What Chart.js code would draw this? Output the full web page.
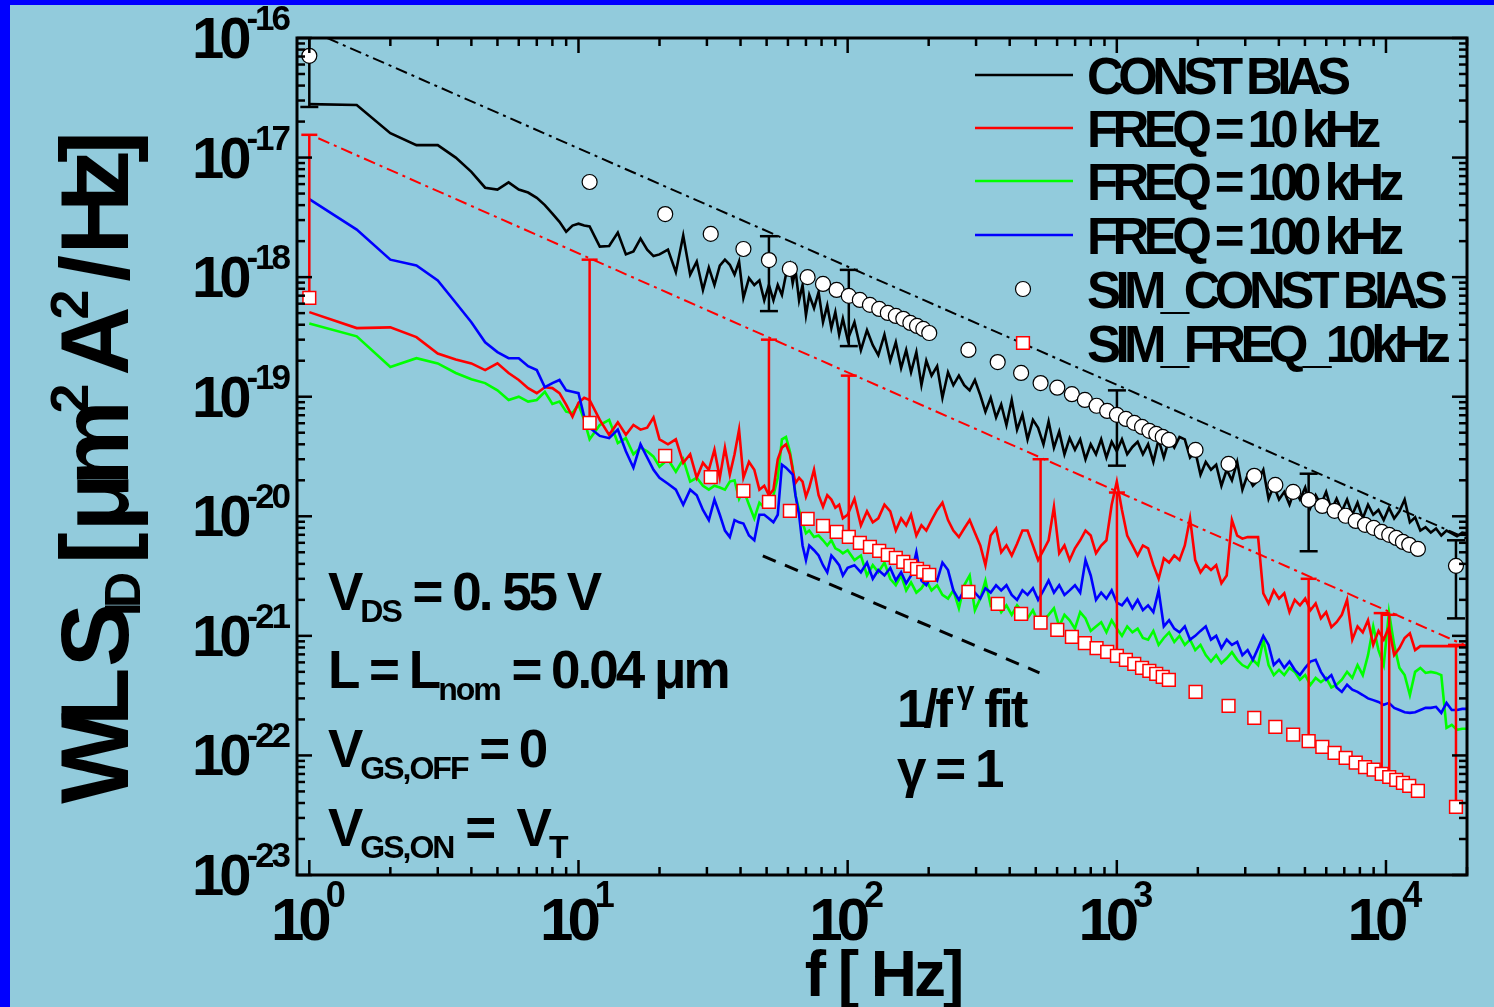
<!DOCTYPE html>
<html>
<head>
<meta charset="utf-8">
<script src="https://cdn.jsdelivr.net/npm/chart.js@4.4.1/dist/chart.umd.min.js"></script>
<style>
  html, body { margin: 0; padding: 0; background: #92cbdc; }
  #wrap { position: relative; width: 1494px; height: 1007px; overflow: hidden; background: #92cbdc; }
  .edge { position: absolute; background: #0000ff; }
</style>
</head>
<body>
<div id="wrap">
  <canvas id="chartNoise"></canvas>
  <div class="edge" style="left:0;top:0;width:10px;height:1007px"></div>
  <div class="edge" style="left:0;top:0;width:1494px;height:5px"></div>
</div>
<script>
// tần số đo (Hz) - dùng chung cho 4 đường đo
const freq = [
  1, 1.5, 2, 2.5, 3, 3.5, 4, 4.5, 5, 5.5, 6, 6.5, 7, 7.5, 8, 8.5, 9, 9.5, 10, 10.5, 11,
  12, 13, 14, 15, 16, 17, 18, 19, 20,
  21.5, 23, 24.5, 26, 27.5, 29, 30.5, 32, 33.5, 35, 36.5, 38, 39.5,
  41, 43, 45, 47, 49, 51, 53, 55, 57, 59,
  61, 62.5, 64, 66, 68, 70,
  72, 75, 78, 81, 84, 87, 90, 93, 96, 100,
  106, 112, 118, 124, 130, 137, 144, 151, 158, 165, 172, 180, 188, 196,
  205, 215, 225, 236, 247, 259, 271, 284, 297, 311, 325, 340, 356, 372, 389,
  407, 426, 446, 466, 488, 510, 534, 558, 584, 611, 639, 668, 699, 731, 765, 800, 837, 875, 915, 957, 1000,
  1045, 1093, 1143, 1195, 1250, 1307, 1367, 1430, 1495, 1564,
  1635, 1710, 1789, 1871, 1956, 2046, 2140, 2238, 2340, 2447,
  2560, 2677, 2800, 2928, 3062, 3202, 3349, 3502, 3663, 3830,
  4006, 4189, 4381, 4582, 4791, 5011, 5240, 5480, 5731, 5994,
  6268, 6555, 6855, 7169, 7498, 7841, 8200, 8576, 8968, 9379,
  9809, 10258, 10727, 11219, 11732, 12270, 12831, 13419, 14033, 14676,
  15348, 16051, 16786, 17554, 18358, 19199, 20000
];

// CONST BIAS (đen)
const constBias = [
  2.8e-17, 2.75e-17, 1.6e-17, 1.27e-17, 1.27e-17, 1.0e-17, 7.6e-18, 5.6e-18, 5.4e-18, 6.2e-18, 5.4e-18, 5.1e-18, 4.6e-18, 4.0e-18, 3.4e-18, 2.9e-18, 2.4e-18, 2.7e-18, 2.8e-18, 2.7e-18, 2.65e-18,
  1.8e-18, 1.82e-18, 2.36e-18, 1.55e-18, 1.64e-18, 2.1e-18, 1.7e-18, 1.5e-18, 1.55e-18,
  1.7e-18, 1.1e-18, 2.23e-18, 1.05e-18, 1.35e-18, 7.8e-19, 1.2e-18, 8.6e-19, 1.25e-18, 1.4e-18, 1.27e-18, 1.05e-18, 1.35e-18,
  6.7e-19, 9.8e-19, 8.6e-19, 9.4e-19, 6.4e-19, 8.6e-19, 6.4e-19, 8.6e-19, 7.1e-19, 1.05e-18,
  1.27e-18, 8.9e-19, 1.15e-18, 6.4e-19, 8.6e-19, 4.8e-19,
  7.1e-19, 5.5e-19, 7.5e-19, 4.2e-19, 5.8e-19, 3.75e-19, 5.1e-19, 3.3e-19, 4.5e-19, 3.0e-19,
  4.2e-19, 2.45e-19, 3.6e-19, 2.7e-19, 2.23e-19, 3.3e-19, 2.0e-19, 2.85e-19, 1.74e-19, 2.45e-19, 1.6e-19, 2.36e-19, 1.25e-19, 2.0e-19,
  1.5e-19, 1.8e-19, 9.8e-20, 1.6e-19, 1.25e-19, 1.5e-19, 1.25e-19, 1.13e-19, 1.38e-19, 1.03e-19, 7.5e-20, 9.8e-20, 6.7e-20, 8.6e-20, 5.8e-20,
  9.4e-20, 5.3e-20, 7.1e-20, 4.4e-20, 6.4e-20, 5.5e-20, 4.0e-20, 6.2e-20, 3.75e-20, 5.1e-20, 3.3e-20, 4.5e-20, 3.6e-20, 4.4e-20, 3.0e-20, 4.0e-20, 3.3e-20, 4.4e-20, 3.1e-20, 4.2e-20, 3.5e-20,
  4.4e-20, 3.3e-20, 3.8e-20, 4.2e-20, 3.3e-20, 4.0e-20, 2.85e-20, 4.4e-20, 3.1e-20, 4.4e-20,
  3.75e-20, 4.6e-20, 4.4e-20, 3.1e-20, 3.5e-20, 2.23e-20, 2.85e-20, 2.45e-20, 2.7e-20, 1.8e-20,
  2.45e-20, 2.0e-20, 2.85e-20, 1.67e-20, 2.23e-20, 1.8e-20, 2.0e-20, 2.45e-20, 1.4e-20, 1.8e-20,
  1.38e-20, 1.6e-20, 1.25e-20, 1.67e-20, 1.38e-20, 1.74e-20, 1.18e-20, 1.5e-20, 1.25e-20, 1.6e-20,
  1.13e-20, 1.4e-20, 1.1e-20, 1.38e-20, 1.03e-20, 1.3e-20, 9.6e-21, 1.25e-20, 1.03e-20, 1.13e-20,
  9.3e-21, 1.18e-20, 9.6e-21, 1.1e-20, 1.38e-20, 8.9e-21, 9.8e-21, 7.6e-21, 8.1e-21, 7.3e-21,
  7.9e-21, 6.9e-21, 7.6e-21, 7.2e-21, 6.8e-21, 7.3e-21, 7.2e-21
];

// FREQ = 10 kHz (đỏ)
const freq10k = [
  5.1e-19, 3.75e-19, 3.8e-19, 3.15e-19, 2.3e-19, 2.05e-19, 1.9e-19, 1.67e-19, 1.9e-19, 1.58e-19, 1.38e-19, 1.18e-19, 1.07e-19, 1.2e-19, 1.18e-19, 1.07e-19, 8.6e-20, 6.8e-20, 8.9e-20, 9.8e-20, 9.4e-20,
  6.4e-20, 4.8e-20, 6.1e-20, 4.8e-20, 5.8e-20, 5.3e-20, 5.5e-20, 6.7e-20, 4.4e-20,
  4.0e-20, 4.4e-20, 2.8e-20, 3.3e-20, 2.1e-20, 2.8e-20, 2.45e-20, 3.6e-20, 2.1e-20, 3.75e-20, 2.23e-20, 3.3e-20, 5.3e-20,
  2.1e-20, 2.85e-20, 2.45e-20, 1.67e-20, 1.8e-20, 1.5e-20, 1.67e-20, 3.0e-20, 3.75e-20, 4.0e-20,
  3.3e-20, 2.45e-20, 1.9e-20, 2.1e-20, 1.95e-20, 1.46e-20,
  1.74e-20, 2.45e-20, 1.5e-20, 1.2e-20, 1.5e-20, 1.38e-20, 1.18e-20, 1.25e-20, 9.6e-21, 1.03e-20,
  1.4e-20, 8.4e-21, 1.1e-20, 8.9e-21, 9.6e-21, 1.25e-20, 1.1e-20, 7.6e-21, 9.6e-21, 8.4e-21, 1.03e-20, 6.9e-21, 8.4e-21, 7.6e-21,
  9.3e-21, 1.13e-20, 1.3e-20, 9.3e-21, 7.6e-21, 6.7e-21, 7.9e-21, 9.3e-21, 7.3e-21, 5.7e-21, 3.9e-21, 6.9e-21, 7.9e-21, 5.0e-21, 5.7e-21,
  4.7e-21, 5.9e-21, 7.6e-21, 7.6e-21, 5.7e-21, 4.3e-21, 5.2e-21, 6.3e-21, 1.2e-20, 4.9e-21, 5.7e-21, 4.3e-21, 5.4e-21, 6.3e-21, 7.6e-21, 6.9e-21, 4.9e-21, 5.7e-21, 6.3e-21, 1.25e-20, 1.95e-20,
  1.13e-20, 6.9e-21, 5.7e-21, 4.7e-21, 5.7e-21, 5.4e-21, 3.9e-21, 3.0e-21, 4.45e-21, 4.1e-21,
  4.7e-21, 4.3e-21, 5.7e-21, 9.6e-21, 4.3e-21, 3.4e-21, 3.9e-21, 3.55e-21, 3.9e-21, 2.75e-21,
  3.2e-21, 9.3e-21, 6.9e-21, 6.5e-21, 6.7e-21, 6.7e-21, 6.7e-21, 2.27e-21, 1.87e-21, 2.4e-21,
  2.05e-21, 2.27e-21, 1.58e-21, 2.0e-21, 1.8e-21, 2.05e-21, 1.64e-21, 1.87e-21, 1.4e-21, 1.58e-21,
  1.18e-21, 1.3e-21, 1.5e-21, 2.0e-21, 9.3e-22, 1.2e-21, 1.07e-21, 1.35e-21, 8.4e-22, 1.1e-21,
  9.3e-22, 1.18e-21, 6.9e-22, 7.9e-22, 9.6e-22, 1.05e-21, 7.6e-22, 8.2e-22, 8.2e-22, 8.2e-22,
  8.2e-22, 8.2e-22, 8.2e-22, 8.2e-22, 8.2e-22, 8.2e-22, 8.2e-22
];

// FREQ = 100 kHz (xanh lá)
const freq100kGreen = [
  4.1e-19, 3.2e-19, 1.77e-19, 2.1e-19, 1.9e-19, 1.58e-19, 1.4e-19, 1.3e-19, 1.13e-19, 9.4e-20, 1.0e-19, 9.1e-20, 9.4e-20, 1.1e-19, 8.7e-20, 9.1e-20, 7.5e-20, 7.3e-20, 8.6e-20, 6.4e-20, 4.4e-20,
  5.8e-20, 6.4e-20, 4.1e-20, 4.5e-20, 3.3e-20, 3.75e-20, 3.5e-20, 3.15e-20, 2.6e-20,
  3.0e-20, 2.36e-20, 3.0e-20, 1.95e-20, 2.1e-20, 1.8e-20, 1.67e-20, 1.8e-20, 1.74e-20, 1.67e-20, 1.95e-20, 2.0e-20, 1.4e-20,
  1.67e-20, 1.25e-20, 9.6e-21, 1.3e-20, 1.18e-20, 1.25e-20, 1.5e-20, 2.1e-20, 4.4e-20, 4.6e-20,
  3.5e-20, 2.55e-20, 1.5e-20, 1.13e-20, 8.9e-21, 7.2e-21,
  7.6e-21, 6.7e-21, 6.9e-21, 6.3e-21, 5.7e-21, 6.3e-21, 5.4e-21, 5.2e-21, 4.9e-21, 5.2e-21,
  4.3e-21, 4.7e-21, 3.2e-21, 3.9e-21, 3.4e-21, 4.1e-21, 3.0e-21, 2.65e-21, 3.2e-21, 2.4e-21, 2.8e-21, 2.3e-21, 2.5e-21, 2.9e-21,
  2.4e-21, 2.65e-21, 2.2e-21, 2.05e-21, 2.4e-21, 1.7e-21, 2.65e-21, 3.2e-21, 1.64e-21, 2.05e-21, 2.9e-21, 1.8e-21, 2.0e-21, 1.58e-21, 1.8e-21,
  1.5e-21, 1.8e-21, 1.58e-21, 1.4e-21, 1.64e-21, 1.3e-21, 1.35e-21, 1.5e-21, 1.7e-21, 1.2e-21, 1.5e-21, 1.35e-21, 1.15e-21, 1.58e-21, 1.4e-21, 1.1e-21, 1.2e-21, 1.3e-21, 1.07e-21, 1.35e-21, 1.15e-21,
  1.0e-21, 1.2e-21, 1.07e-21, 1.15e-21, 9.6e-22, 9.3e-22, 1.1e-21, 8.4e-22, 9.6e-22, 1.07e-21,
  8.9e-22, 1.0e-21, 8.4e-22, 9.3e-22, 7.6e-22, 8.4e-22, 6.9e-22, 6.1e-22, 6.9e-22, 5.9e-22,
  6.5e-22, 7.3e-22, 6.3e-22, 5.7e-22, 5.4e-22, 6.3e-22, 5.7e-22, 9.3e-22, 5.7e-22, 4.7e-22,
  5.2e-22, 4.7e-22, 5.4e-22, 5.0e-22, 4.3e-22, 4.7e-22, 3.9e-22, 4.45e-22, 4.1e-22, 4.45e-22,
  3.7e-22, 3.9e-22, 4.3e-22, 5.0e-22, 4.45e-22, 5.7e-22, 4.7e-22, 6.9e-22, 1.2e-21, 7.6e-22,
  5.7e-22, 1.58e-21, 8.4e-22, 5.4e-22, 4.7e-22, 3.2e-22, 5.0e-22, 5.4e-22, 4.9e-22, 5.0e-22,
  4.9e-22, 4.7e-22, 1.7e-22, 1.8e-22, 1.64e-22, 1.67e-22, 1.67e-22
];

// FREQ = 100 kHz (xanh dương)
const freq100kBlue = [
  4.5e-18, 2.5e-18, 1.4e-18, 1.25e-18, 9.4e-19, 6.1e-19, 4.2e-19, 2.85e-19, 2.36e-19, 2.1e-19, 2.1e-19, 1.8e-19, 1.67e-19, 1.2e-19, 1.3e-19, 1.38e-19, 1.13e-19, 1.1e-19, 1.07e-19, 6.8e-20, 5.5e-20,
  4.7e-20, 4.5e-20, 5.3e-20, 3.5e-20, 2.55e-20, 4.0e-20, 3.1e-20, 2.45e-20, 2.1e-20,
  1.87e-20, 1.67e-20, 1.25e-20, 1.67e-20, 1.5e-20, 1.13e-20, 9.3e-21, 1.38e-20, 1.03e-20, 7.6e-21, 6.7e-21, 9.3e-21, 8.9e-21,
  8.7e-21, 6.9e-21, 6.3e-21, 1.03e-20, 1.03e-20, 9.6e-21, 8.9e-21, 1.03e-20, 2.7e-20, 2.55e-20,
  2.36e-20, 2.23e-20, 1.5e-20, 1.03e-20, 5.7e-21, 4.3e-21,
  5.7e-21, 5.2e-21, 4.7e-21, 3.9e-21, 3.4e-21, 4.7e-21, 4.3e-21, 3.9e-21, 3.2e-21, 3.7e-21,
  3.9e-21, 3.4e-21, 4.1e-21, 3.0e-21, 3.55e-21, 3.2e-21, 3.7e-21, 2.9e-21, 3.4e-21, 2.75e-21, 3.2e-21, 5.0e-21, 2.9e-21, 2.65e-21,
  3.2e-21, 2.9e-21, 4.1e-21, 3.55e-21, 2.4e-21, 2.0e-21, 2.4e-21, 2.15e-21, 2.3e-21, 2.05e-21, 2.5e-21, 2.3e-21, 2.65e-21, 2.4e-21, 2.65e-21,
  2.2e-21, 2.0e-21, 2.4e-21, 2.2e-21, 2.5e-21, 2.0e-21, 2.4e-21, 2.9e-21, 2.3e-21, 2.65e-21, 2.2e-21, 2.4e-21, 2.65e-21, 2.3e-21, 4.3e-21, 3.2e-21, 2.0e-21, 2.3e-21, 2.05e-21, 2.4e-21, 1.9e-21,
  1.8e-21, 2.05e-21, 1.7e-21, 2.0e-21, 1.64e-21, 1.8e-21, 1.58e-21, 2.4e-21, 1.2e-21, 1.35e-21,
  1.15e-21, 1.07e-21, 1.2e-21, 9.3e-22, 1.0e-21, 1.1e-21, 1.2e-21, 9.3e-22, 1.0e-21, 7.9e-22,
  9.3e-22, 8.4e-22, 8.9e-22, 6.9e-22, 7.6e-22, 6.3e-22, 7.9e-22, 1.0e-21, 8.4e-22, 5.7e-22,
  6.3e-22, 5.4e-22, 6.1e-22, 5.2e-22, 4.7e-22, 5.4e-22, 6.1e-22, 6.3e-22, 5.0e-22, 4.3e-22,
  4.7e-22, 3.7e-22, 3.4e-22, 3.9e-22, 3.55e-22, 3.4e-22, 3.2e-22, 3.0e-22, 2.9e-22, 2.8e-22,
  2.65e-22, 2.75e-22, 2.5e-22, 2.4e-22, 2.3e-22, 2.27e-22, 2.3e-22, 2.4e-22, 2.5e-22, 2.5e-22,
  2.55e-22, 2.27e-22, 2.75e-22, 2.4e-22, 2.4e-22, 2.45e-22, 2.45e-22
];

// mô phỏng (điểm tròn / vuông)
const simFreq = [
  1, 11, 21, 31, 41, 51, 61, 71, 81, 91, 101, 111, 121, 131, 141, 151, 161, 171, 181, 191, 201,
  281, 361, 441, 521, 601, 681, 761, 841, 921, 1001, 1081, 1161, 1241, 1321, 1401, 1481, 1561,
  1961, 2601, 3241, 3881, 4521, 5161, 5801, 6441, 7081, 7721, 8361, 9001, 9641, 10281, 10921, 11561, 12201, 13140,
  18200
];
const simConstBias = [
  7.1e-17, 6.25e-18, 3.37e-18, 2.3e-18, 1.72e-18, 1.39e-18, 1.17e-18, 1.0e-18, 8.78e-19, 7.82e-19, 6.97e-19, 6.45e-19, 5.86e-19, 5.42e-19, 5.02e-19, 4.74e-19, 4.48e-19, 4.14e-19, 3.91e-19, 3.69e-19, 3.41e-19,
  2.46e-19, 1.95e-19, 1.58e-19, 1.3e-19, 1.19e-19, 1.05e-19, 9.4e-20, 8.4e-20, 7.6e-20, 7.05e-20, 6.52e-20, 6.04e-20, 5.59e-20, 5.18e-20, 4.89e-20, 4.61e-20, 4.35e-20,
  3.59e-20, 2.74e-20, 2.18e-20, 1.83e-20, 1.6e-20, 1.37e-20, 1.22e-20, 1.11e-20, 1.01e-20, 9.15e-21, 8.48e-21, 8.0e-21, 7.4e-21, 6.99e-21, 6.59e-21, 6.1e-21, 5.77e-21, 5.33e-21,
  3.85e-21
];
const simFreq10k = [
  6.7e-19, 6.04e-20, 3.2e-20, 2.13e-20, 1.63e-20, 1.32e-20, 1.11e-20, 9.5e-21, 8.3e-21, 7.4e-21, 6.73e-21, 6.0e-21, 5.55e-21, 5.14e-21, 4.75e-21, 4.49e-21, 4.16e-21, 3.85e-21, 3.63e-21, 3.43e-21, 3.24e-21,
  2.33e-21, 1.85e-21, 1.53e-21, 1.29e-21, 1.12e-21, 9.8e-22, 8.7e-22, 7.9e-22, 7.35e-22, 6.8e-22, 6.3e-22, 5.83e-22, 5.4e-22, 5.1e-22, 4.8e-22, 4.54e-22, 4.29e-22,
  3.4e-22, 2.6e-22, 2.06e-22, 1.73e-22, 1.49e-22, 1.32e-22, 1.18e-22, 1.05e-22, 9.55e-23, 8.7e-23, 8.0e-23, 7.6e-23, 7.0e-23, 6.6e-23, 6.25e-23, 5.9e-23, 5.57e-23, 5.06e-23,
  3.72e-23
];

// thanh sai số
const constErrFreq = [1, 51, 101, 1001, 5161, 18200];
const constErrLow = [2.65e-17, 5.2e-19, 2.65e-19, 2.65e-20, 5.1e-21, 1.4e-21];
const constErrHigh = [1.17e-16, 2.2e-18, 1.15e-18, 1.13e-19, 2.27e-20, 6.3e-21];
const simErrFreq = [1, 11, 51, 101, 521, 1001, 5161, 9641, 10281, 18200];
const simErrLow = [6.7e-19, 6.04e-20, 1.32e-20, 6.73e-21, 1.29e-21, 6.8e-22, 1.32e-22, 7.0e-23, 6.6e-23, 3.72e-23];
const simErrHigh = [1.55e-17, 1.4e-18, 3.0e-19, 1.5e-19, 3.0e-20, 1.58e-20, 3.0e-21, 1.55e-21, 1.5e-21, 8.4e-22];

// đường fit
const constFitFreq = [1.166, 20000];
const constFitVal = [1.0e-16, 6.5e-21];
const simFitFreq = [1.08, 20000];
const simFitVal = [1.45e-17, 8.2e-22];
const gammaFitFreq = [48.4, 516];
const gammaFitVal = [4.67e-21, 4.91e-22];

// trục
const xDecades = [1, 10, 100, 1000, 10000];
const xTickExp = ['0', '1', '2', '3', '4'];
const yDecades = [1e-23, 1e-22, 1e-21, 1e-20, 1e-19, 1e-18, 1e-17, 1e-16];
const yTickExp = ['-23', '-22', '-21', '-20', '-19', '-18', '-17', '-16'];
const legendNames = ['CONST BIAS', 'FREQ = 10 kHz', 'FREQ = 100 kHz', 'FREQ = 100 kHz', 'SIM_CONST BIAS', 'SIM_FREQ_10kHz'];

const pts = (xs, ys) => xs.map((x, i) => ({ x: x, y: ys[i] }));
function errPts(fs, lo, hi) {
    const out = [];
    fs.forEach((f, i) => { out.push({ x: f, y: lo[i] }, { x: f, y: hi[i] }, { x: f, y: null }); });
    return out;
}

const FONT = '"Liberation Sans", Arial, Helvetica, sans-serif';
function setFont(ctx, size, sp) {
    ctx.font = 'bold ' + size + 'px ' + FONT;
    if ('letterSpacing' in ctx) ctx.letterSpacing = (sp || 0) + 'px';
}
// parts: [text, size, dy, spacing]
function drawRich(ctx, parts, x, y, align) {
    let w = 0;
    parts.forEach(p => { setFont(ctx, p[1], p[3]); w += ctx.measureText(p[0]).width; });
    let cx = align === 'right' ? x - w : (align === 'center' ? x - w / 2 : x);
    parts.forEach(p => {
        setFont(ctx, p[1], p[3]);
        ctx.fillText(p[0], cx, y + (p[2] || 0));
        cx += ctx.measureText(p[0]).width;
    });
    setFont(ctx, 10, 0);
}

// khung + vạch chia + nhãn
const framePlugin = {
    id: 'frame',
    afterDatasetsDraw(chart) {
        const { ctx, chartArea: a, scales: { x, y } } = chart;
        ctx.save();
        ctx.strokeStyle = '#000';
        const seg = (x1, y1, x2, y2) => { ctx.beginPath(); ctx.moveTo(x1, y1); ctx.lineTo(x2, y2); ctx.stroke(); };
        ctx.lineWidth = 2.5;
        xDecades.forEach(d => {
            const p = x.getPixelForValue(d);
            seg(p, a.bottom, p, a.bottom - 15); seg(p, a.top, p, a.top + 15);
            for (let m = 2; m <= 9; m++) {
                const v = d * m;
                if (v > x.max) continue;
                const q = x.getPixelForValue(v);
                seg(q, a.bottom, q, a.bottom - 8); seg(q, a.top, q, a.top + 8);
            }
        });
        yDecades.forEach((d, i) => {
            const p = y.getPixelForValue(d);
            seg(a.left, p, a.left + 15, p); seg(a.right, p, a.right - 15, p);
            if (i === yDecades.length - 1) return;
            for (let m = 2; m <= 9; m++) {
                const q = y.getPixelForValue(d * m);
                seg(a.left, q, a.left + 8, q); seg(a.right, q, a.right - 8, q);
            }
        });
        ctx.lineWidth = 3;
        ctx.strokeRect(a.left, a.top, a.right - a.left, a.bottom - a.top);

        ctx.fillStyle = '#000';
        ctx.textBaseline = 'alphabetic';
        yDecades.forEach((d, i) => {
            const p = y.getPixelForValue(d);
            drawRich(ctx, [['10', 58, 20, -5], [yTickExp[i], 35, -8, -3]], 288, p, 'right');
        });
        xDecades.forEach((d, i) => {
            const p = x.getPixelForValue(d);
            drawRich(ctx, [['10', 60, 0, -6], [xTickExp[i], 36, -33, -2]], p - 2, 940, 'center');
        });
        ctx.restore();
    }
};

// chú giải + chữ
const textPlugin = {
    id: 'texts',
    afterDraw(chart) {
        const ctx = chart.ctx;
        ctx.save();
        ctx.fillStyle = '#000';
        // tiêu đề trục
        drawRich(ctx, [['f [ Hz]', 64, 0, -3]], 883, 996, 'center');
        ctx.save();
        ctx.translate(128, 474);
        ctx.rotate(-Math.PI / 2);
        drawRich(ctx, [['WL S', 96, 0, -13], ['ID', 50, 12, -6], [' [ \u03bcm', 96, 0, -13], ['2', 54, -40, -6],
            [' A', 96, 0, -13], ['2', 54, -40, -6], [' / Hz]', 96, 0, -13]], 0, 0, 'center');
        ctx.restore();

        // chú giải
        const rows = [75, 128, 181, 235, 289, 343];
        const ds = chart.data.datasets;
        rows.forEach((ry, i) => {
            if (i < 4) {
                ctx.strokeStyle = ds[i].borderColor; ctx.lineWidth = 2.5;
                ctx.beginPath(); ctx.moveTo(975, ry); ctx.lineTo(1073, ry); ctx.stroke();
            } else {
                const d = ds[i === 4 ? 9 : 10];
                ctx.fillStyle = d.pointBackgroundColor;
                ctx.strokeStyle = d.pointBorderColor;
                ctx.lineWidth = d.pointBorderWidth;
                ctx.beginPath();
                if (d.pointStyle === 'circle') ctx.arc(1023, ry, d.pointRadius, 0, Math.PI * 2);
                else { const s = d.pointRadius * Math.SQRT1_2; ctx.rect(1023 - s, ry - s, 2 * s, 2 * s); }
                ctx.fill(); ctx.stroke();
            }
            ctx.fillStyle = '#000';
            drawRich(ctx, [[legendNames[i], 51, 0, -5.6]], 1087, ry + 19, 'left');
        });

        // chú thích điều kiện
        drawRich(ctx, [['V', 53, 0, -3], ['DS', 32, 12, -2], [' = 0. 55 V', 53, 0, -3]], 328, 610, 'left');
        drawRich(ctx, [['L = L', 53, 0, -3], ['nom', 32, 12, -2], [' = 0.04 \u03bcm', 53, 0, -3]], 328, 688, 'left');
        drawRich(ctx, [['V', 53, 0, -3], ['GS,OFF', 32, 12, -2], [' = 0', 53, 0, -3]], 328, 767, 'left');
        drawRich(ctx, [['V', 53, 0, -3], ['GS,ON', 32, 12, -2], [' =  V', 53, 0, -3], ['T', 32, 12, -2]], 328, 846, 'left');
        drawRich(ctx, [['1/f', 53, 0, -3], [' \u03b3', 32, -24, -2], [' fit', 53, 0, -3]], 897, 727, 'left');
        drawRich(ctx, [['\u03b3 = 1', 53, 0, -3]], 897, 787, 'left');
        ctx.restore();
    }
};

document.addEventListener('DOMContentLoaded', function () {
    const ctx = document.getElementById('chartNoise').getContext('2d');
    const trace = (label, xs, ys, color, order) => ({
        label: label, data: pts(xs, ys), showLine: true, borderColor: color, borderWidth: 2.6,
        pointRadius: 0, order: order
    });
    new Chart(ctx, {
        type: 'scatter',
        data: {
            datasets: [
                trace(legendNames[0], freq, constBias, '#000000', 11),
                trace(legendNames[1], freq, freq10k, '#ff0000', 9),
                trace(legendNames[2], freq, freq100kGreen, '#00ff00', 10),
                trace(legendNames[3], freq, freq100kBlue, '#0000ff', 8),
                { label: 'fit const', data: pts(constFitFreq, constFitVal), showLine: true, borderColor: '#000000',
                  borderWidth: 2, borderDash: [12, 5, 3, 5], pointRadius: 0, order: 7 },
                { label: 'fit 10k', data: pts(simFitFreq, simFitVal), showLine: true, borderColor: '#ff0000',
                  borderWidth: 2, borderDash: [12, 5, 3, 5], pointRadius: 0, order: 6 },
                { label: 'fit gamma', data: pts(gammaFitFreq, gammaFitVal), showLine: true, borderColor: '#000000',
                  borderWidth: 3, borderDash: [14, 10], pointRadius: 0, order: 5 },
                { label: 'err const', data: errPts(constErrFreq, constErrLow, constErrHigh), showLine: true,
                  borderColor: '#000000', borderWidth: 2.5, pointStyle: 'line',
                  pointRadius: c => (c.dataIndex % 3 === 2 ? 0 : 9), pointBorderColor: '#000000', pointBorderWidth: 2.5, order: 4 },
                { label: 'err sim', data: errPts(simErrFreq, simErrLow, simErrHigh), showLine: true,
                  borderColor: '#ff0000', borderWidth: 2.5, pointStyle: 'line',
                  pointRadius: c => (c.dataIndex % 3 === 1 ? 8 : 0), pointBorderColor: '#ff0000', pointBorderWidth: 2.5, order: 3 },
                { label: legendNames[4], data: pts(simFreq, simConstBias), showLine: false, pointStyle: 'circle',
                  pointRadius: 7.5, pointBackgroundColor: '#ffffff', pointBorderColor: '#000000', pointBorderWidth: 1.2, order: 2 },
                { label: legendNames[5], data: pts(simFreq, simFreq10k), showLine: false, pointStyle: 'rect',
                  pointRadius: 9, pointBackgroundColor: '#ffffff', pointBorderColor: '#ff0000', pointBorderWidth: 1.5, order: 1 }
            ]
        },
        options: {
            responsive: true, maintainAspectRatio: false, animation: false, devicePixelRatio: 1,
            events: [],
            layout: { padding: { left: 297, right: 27, top: 38, bottom: 132 } },
            plugins: { legend: { display: false }, tooltip: { enabled: false } },
            scales: {
                x: { type: 'logarithmic', min: 0.9, max: 20000, display: false },
                y: { type: 'logarithmic', min: 1e-23, max: 1e-16, display: false }
            }
        },
        plugins: [framePlugin, textPlugin]
    });
});
</script>
</body>
</html>
